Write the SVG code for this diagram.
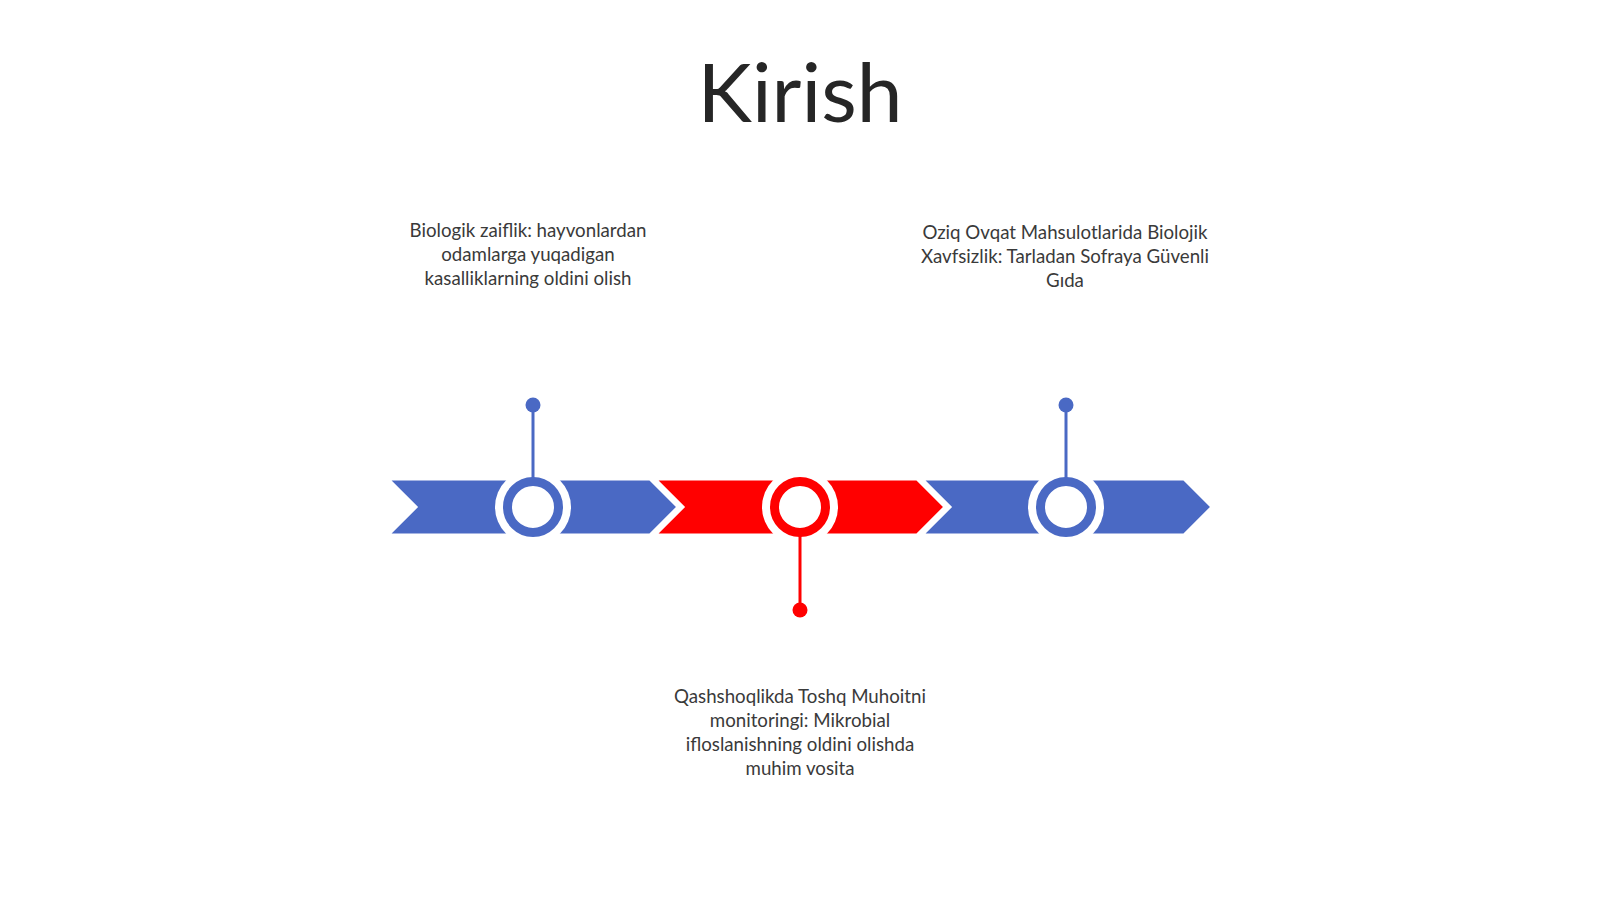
<svg xmlns="http://www.w3.org/2000/svg" width="1600" height="899" viewBox="0 0 1600 899">
<style>
.t{font-family:Lato,"Open Sans","Liberation Sans",sans-serif;font-size:18.7px;fill:#3a3a3a;text-anchor:middle}
.title{font-family:Lato,"Open Sans","Liberation Sans",sans-serif;font-size:82px;fill:#262626;text-anchor:middle}
.blue{fill:#4A69C4}
.red{fill:#FF0000}
.seg{stroke:#fff;stroke-width:3;stroke-linejoin:miter}
.halo{fill:#fff}
</style>
<defs>
<polygon id="chev" points="0,479 262,479 290,507 262,535 0,535 28,507"/>
</defs>
<rect width="1600" height="899" fill="#fff"/>
<text class="title" x="800" y="122">Kirish</text>
<g id="node1">
<use href="#chev" x="388" class="blue seg"/>
<circle cx="533" cy="507" r="38" class="halo"/>
<circle cx="533" cy="507" r="25.5" fill="#fff" stroke="#4A69C4" stroke-width="9"/>
<text class="t" x="528" y="237">Biologik zaiflik: hayvonlardan</text>
<text class="t" x="528" y="261">odamlarga yuqadigan</text>
<text class="t" x="528" y="285">kasalliklarning oldini olish</text>
</g>
<g id="node2">
<use href="#chev" x="655" class="red seg"/>
<circle cx="800" cy="507" r="38" class="halo"/>
<circle cx="800" cy="507" r="25.5" fill="#fff" stroke="#FF0000" stroke-width="9"/>
<text class="t" x="800" y="703">Qashshoqlikda Toshq Muhoitni</text>
<text class="t" x="800" y="727">monitoringi: Mikrobial</text>
<text class="t" x="800" y="751">ifloslanishning oldini olishda</text>
<text class="t" x="800" y="775">muhim vosita</text>
</g>
<g id="node3">
<use href="#chev" x="922" class="blue seg"/>
<circle cx="1066" cy="507" r="38" class="halo"/>
<circle cx="1066" cy="507" r="25.5" fill="#fff" stroke="#4A69C4" stroke-width="9"/>
<text class="t" x="1065" y="239">Oziq Ovqat Mahsulotlarida Biolojik</text>
<text class="t" x="1065" y="263">Xavfsizlik: Tarladan Sofraya Güvenli</text>
<text class="t" x="1065" y="287">Gıda</text>
</g>
<g id="connectors">
<line x1="533" y1="405" x2="533" y2="478" stroke="#4A69C4" stroke-width="3"/>
<circle cx="533" cy="405" r="7.5" class="blue"/>
<line x1="1066" y1="405" x2="1066" y2="478" stroke="#4A69C4" stroke-width="3"/>
<circle cx="1066" cy="405" r="7.5" class="blue"/>
<line x1="800" y1="536" x2="800" y2="610" stroke="#FF0000" stroke-width="3"/>
<circle cx="800" cy="610" r="7.5" class="red"/>
</g>
</svg>
